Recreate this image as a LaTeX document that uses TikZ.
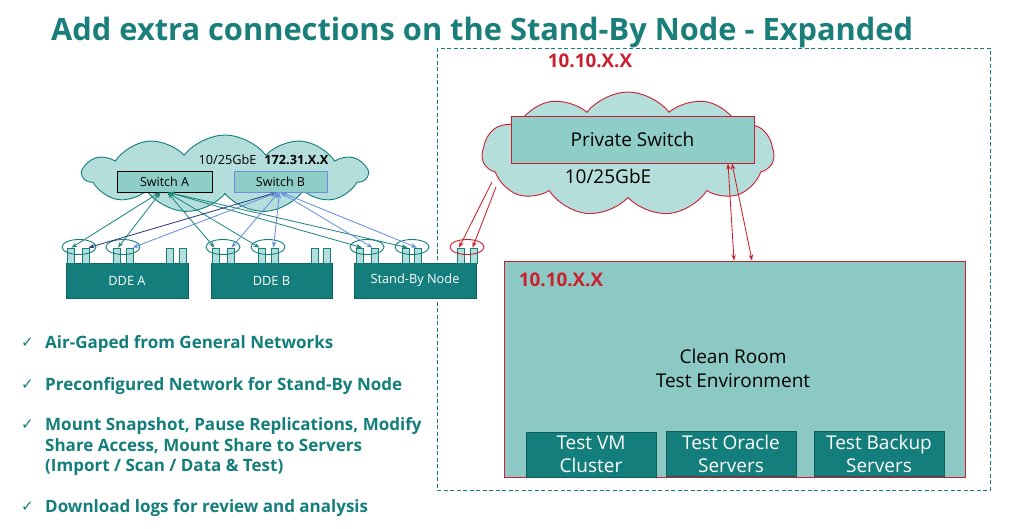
\documentclass[tikz,border=0pt]{standalone}
\usepackage{fontspec}
\setmainfont{Open Sans}
\newfontfamily\symfont{DejaVu Sans}
\usetikzlibrary{shapes.symbols,shapes.geometric,arrows.meta}
\definecolor{tealdk}{HTML}{137E7B}
\definecolor{tealtitle}{HTML}{1A7F7A}
\definecolor{lightteal}{HTML}{B3DEDB}
\definecolor{midteal}{HTML}{8FCDC8}
\definecolor{redc}{HTML}{CC1F2D}
\definecolor{bluec}{HTML}{6B8FDC}
\definecolor{navyc}{HTML}{2E3D7C}
\definecolor{lineteal}{HTML}{21877F}
\tikzset{
  px/.style={font=\fontsize{#1}{20}\selectfont},
  pxb/.style={font=\fontsize{#1}{20}\selectfont\bfseries},
  cloudbox/.style={cloud, cloud puffs=11, cloud puff arc=105, cloud ignores aspect, inner sep=0, fill=lightteal},
  swbox/.style={rectangle, inner sep=0, fill=midteal, line width=0.9pt},
  devbox/.style={rectangle, inner sep=0, fill=tealdk, draw=tealdk!80!black, text=white},
  portbox/.style={rectangle, inner sep=0, minimum width=7, minimum height=15, fill=lightteal, draw=tealdk, line width=0.7pt},
  portring/.style={ellipse, inner sep=0, minimum width=34, minimum height=15, draw=tealdk, line width=0.9pt},
  srvbox/.style={rectangle, inner sep=0, fill=tealdk, draw=tealdk!75!black, text=white, align=center, minimum width=130, minimum height=45, font=\fontsize{19}{23.5}\selectfont},
  tip/.style={{Stealth[length=6pt,width=4.5pt]}-{Stealth[length=6pt,width=4.5pt]}, line width=0.85pt},
  tconn/.style={tip, draw=lineteal},
  bconn/.style={tip, draw=bluec},
  nconn/.style={tip, draw=navyc},
  rconn/.style={tip, draw=redc},
  bullet/.style={anchor=base west, inner sep=0, text=tealdk, font=\fontsize{17}{20.5}\selectfont\bfseries},
  checkmark/.style={anchor=base west, inner sep=0, text=tealdk, font=\symfont\fontsize{15}{17}\selectfont}
}
\begin{document}
\begin{tikzpicture}[x=1pt,y=-1pt]
\useasboundingbox (0,0) rectangle (1024,529);
\fill[white] (0,0) rectangle (1024,529);

% title
\node[anchor=base west, text=tealtitle, font=\fontsize{30.8}{38}\selectfont\bfseries, inner sep=0] (title) at (51,41) {Add extra connections on the Stand-By Node - Expanded};

% dashed region
\draw[tealdk, line width=0.8pt, dash pattern=on 4pt off 2.5pt] (437,48) rectangle (990,490);
\node[text=redc, pxb=18.8] (ipTop) at (590,61) {10.10.X.X};

% left cloud
\node[cloudbox, draw=tealdk, line width=0.9pt, minimum width=284, minimum height=78] (cloudL) at (225,174) {};
\node[swbox, draw=black, minimum width=95, minimum height=21, px=12.5] (swA) at (164.5,181.5) {Switch A};
\node[swbox, draw=bluec, minimum width=93, minimum height=21, px=12.5] (swB) at (280.5,181.5) {Switch B};
\node[px=12.7] (lblL) at (263.5,160) {10/25GbE\hspace{8pt}\textbf{172.31.X.X}};

% private cloud
\node[cloudbox, draw=redc, line width=0.9pt, minimum width=292, minimum height=124] (cloudP) at (628,154) {};
\node[swbox, draw=redc, minimum width=243, minimum height=47, px=19] (ps) at (632.5,139.5) {Private Switch};
\node[px=19] (lblP) at (608,176) {10/25GbE};

% clean room
\node[rectangle, inner sep=0, draw=redc, fill=midteal!98!black, line width=0.9pt, minimum width=461, minimum height=216] (cr) at (734.5,369) {};
\node[text=redc, pxb=18.8] (ipCR) at (561,280) {10.10.X.X};
\node[align=center, font=\fontsize{19}{24}\selectfont] (crText) at (733,368) {Clean Room\\Test Environment};
\node[srvbox] (vm) at (591,454.5) {Test VM\\Cluster};
\node[srvbox] (ora) at (731,454) {Test Oracle\\Servers};
\node[srvbox] (bak) at (879,454) {Test Backup\\Servers};

% devices
\node[devbox, minimum width=122, minimum height=35, px=12.8] (ddeA) at (127,280.5) {DDE A};
\node[devbox, minimum width=121, minimum height=35, px=12.8] (ddeB) at (271.5,280.5) {DDE B};
\node[devbox, minimum width=122, minimum height=35, px=12.8] (sb) at (415,280.5) {Stand-By Node};

% ports DDE A
\node[portbox] (a1) at (70.5,255.5) {};
\node[portbox] (a2) at (85.5,255.5) {};
\node[portbox] (a3) at (117,255.5) {};
\node[portbox] (a4) at (129.5,255.5) {};
\node[portbox] (a5) at (170,255.5) {};
\node[portbox] (a6) at (183,255.5) {};
% ports DDE B
\node[portbox] (b1) at (215.5,255.5) {};
\node[portbox] (b2) at (230.5,255.5) {};
\node[portbox] (b3) at (261.5,255.5) {};
\node[portbox] (b4) at (274.5,255.5) {};
\node[portbox] (b5) at (314.5,255.5) {};
\node[portbox] (b6) at (327,255.5) {};
% ports Stand-By
\node[portbox] (s1) at (360,255.5) {};
\node[portbox] (s2) at (374.5,255.5) {};
\node[portbox] (s3) at (405.5,255.5) {};
\node[portbox] (s4) at (418,255.5) {};
\node[portbox] (s5) at (461,255.5) {};
\node[portbox] (s6) at (473.5,255.5) {};

% rings
\node[portring] (ra1) at (79,247) {};
\node[portring] (ra2) at (123,247) {};
\node[portring] (rb1) at (223,247) {};
\node[portring] (rb2) at (268,247) {};
\node[portring] (rs1) at (367,247) {};
\node[portring] (rs2) at (412,247) {};
\node[portring, draw=redc] (rs3) at (467,247) {};

% connections switch A
\draw[tconn] ([xshift=-5pt]swA.south) -- ([xshift=1pt]a1.north);
\draw[tconn] ([xshift=-4pt]swA.south) -- ([xshift=1pt]a3.north);
\draw[tconn] ([xshift=3pt]swA.south) -- ([xshift=-1pt]b1.north);
\draw[tconn] ([xshift=3pt]swA.south) -- ([xshift=-2pt]b3.north);
\draw[tconn] ([xshift=4pt]swA.south) -- ([xshift=2pt]s1.north);
\draw[tconn] ([xshift=4pt]swA.south) -- ([xshift=2pt]s3.north);
% connections switch B
\draw[nconn] ([xshift=-4pt]swB.south) -- ([xshift=3pt]a2.north);
\draw[bconn] ([xshift=-3pt]swB.south) -- ([xshift=3pt]a4.north);
\draw[bconn] ([xshift=-2pt]swB.south) -- ([xshift=1pt]b2.north);
\draw[bconn] ([xshift=-1pt]swB.south) -- ([xshift=-1pt]b4.north);
\draw[bconn] ([xshift=0pt]swB.south) -- ([xshift=-2pt]s2.north);
\draw[bconn] ([xshift=1pt]swB.south) -- ([xshift=-1pt]s4.north);

% red connections
\coordinate (pc1) at (492,182);
\coordinate (pc2) at (496,187);
\draw[redc, line width=0.85pt, -{Stealth[length=6pt,width=4.5pt]}] (pc1) -- ([xshift=-2pt]s5.north);
\draw[redc, line width=0.85pt, -{Stealth[length=6pt,width=4.5pt]}] (pc2) -- ([xshift=-1pt]s6.north);
\draw[rconn] ([xshift=95.5pt]ps.south) -- ([xshift=-0.5pt]cr.north);
\draw[rconn] ([xshift=99.5pt]ps.south) -- ([xshift=17.5pt]cr.north);

% bullet list
\node[checkmark] (c1) at (21,347) {✓};
\node[bullet] (t1) at (45,348) {Air-Gaped from General Networks};
\node[checkmark] (c2) at (21,389) {✓};
\node[bullet] (t2) at (45,390) {Preconfigured Network for Stand-By Node};
\node[checkmark] (c3) at (21,429) {✓};
\node[bullet] (t3a) at (45,430) {Mount Snapshot, Pause Replications, Modify};
\node[bullet] (t3b) at (45,451) {Share Access, Mount Share to Servers};
\node[bullet] (t3c) at (45,471) {(Import / Scan / Data \& Test)};
\node[checkmark] (c4) at (21,511) {✓};
\node[bullet] (t4) at (45,512) {Download logs for review and analysis};
\end{tikzpicture}
\end{document}
